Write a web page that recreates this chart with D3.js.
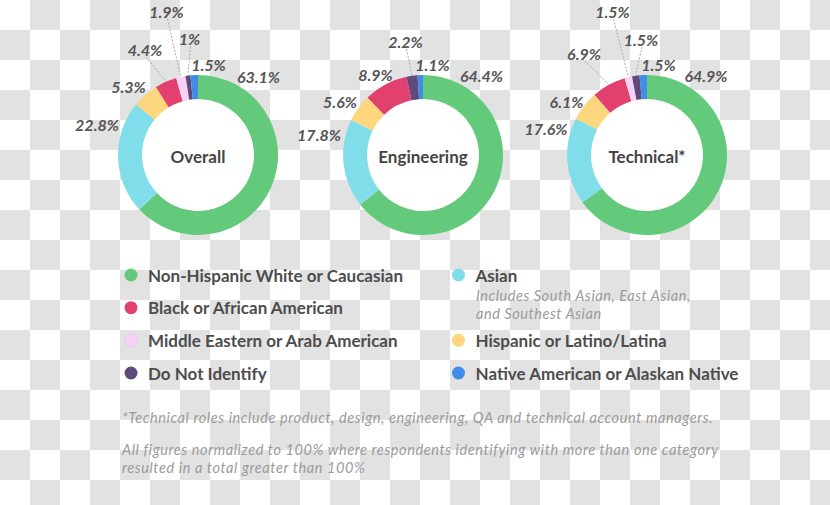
<!DOCTYPE html>
<html>
<head>
<meta charset="utf-8">
<script src="https://cdn.jsdelivr.net/npm/d3@7"></script>
<style>
  html, body { margin: 0; padding: 0; background: #fff; }
  svg { display: block; }
  text { font-family: Lato, "Open Sans", sans-serif; }
</style>
</head>
<body>
<svg id="chart" width="830" height="505"></svg>
<script>
// ---- data ----
const categories = [
  "Non-Hispanic White or Caucasian",
  "Asian",
  "Hispanic or Latino/Latina",
  "Black or African American",
  "Middle Eastern or Arab American",
  "Do Not Identify",
  "Native American or Alaskan Native"
];
const chartTitles = ["Overall", "Engineering", "Technical*"];
const overallValues     = [63.1, 22.8, 5.3, 4.4, 1.9, 1.0, 1.5];
const engineeringValues = [64.4, 17.8, 5.6, 8.9, 0.0, 2.2, 1.1];
const technicalValues   = [64.9, 17.6, 6.1, 6.9, 1.5, 1.5, 1.5];
const legendLeft  = ["Non-Hispanic White or Caucasian", "Black or African American", "Middle Eastern or Arab American", "Do Not Identify"];
const legendRight = ["Asian", "Hispanic or Latino/Latina", "Native American or Alaskan Native"];
const asianNote = ["Includes South Asian, East Asian,", "and Southest Asian"];
const footnotes = [
  "*Technical roles include product, design, engineering, QA and technical account managers.",
  "All figures normalized to 100% where respondents identifying with more than one category",
  "resulted in a total greater than 100%"
];

// ---- styling / layout (not data) ----
const colors = ["#63ca7b", "#7fdeea", "#fdd67e", "#e2416f", "#f6d3f6", "#5f4a7c", "#3f8ce9"];
const color = d3.scaleOrdinal().domain(categories).range(colors);
const centersX = [198, 423, 647];
const centerY = 155;
const rOuter = 80, rInner = 56;
// label anchor offsets relative to donut centre, per chart, per category; lead = dashed leader line
const labelLayout = [
  [[60.5,-79,0],[-101,-31,0],[-69.5,-69,0],[-53,-106,1],[-31.5,-144,1],[-8.5,-116.5,1],[10.5,-91,0]],
  [[58.5,-80,0],[-104,-21,0],[-83,-54,0],[-47.5,-81,0],null,[-17.5,-114,1],[9.5,-91,0]],
  [[59,-80,0],[-101,-27,0],[-80.5,-54,0],[-63,-102,1],[-34.5,-144,1],[-6,-116,1],[11.5,-91,0]]
];

const svg = d3.select("#chart");

// checkerboard background
const defs = svg.append("defs");
const pat = defs.append("pattern").attr("id", "checker")
  .attr("width", 60).attr("height", 60).attr("patternUnits", "userSpaceOnUse");
pat.append("rect").attr("width", 60).attr("height", 60).attr("fill", "#ffffff");
pat.append("rect").attr("x", 30).attr("y", 0).attr("width", 30).attr("height", 30).attr("fill", "#e2e2e2");
pat.append("rect").attr("x", 0).attr("y", 30).attr("width", 30).attr("height", 30).attr("fill", "#e2e2e2");
svg.append("rect").attr("width", 830).attr("height", 505).attr("fill", "url(#checker)");

const pie = d3.pie().sort(null).value(d => d).startAngle(0).endAngle(2 * Math.PI);
const arc = d3.arc().innerRadius(rInner).outerRadius(rOuter);
const fmt = v => (Math.round(v * 10) % 10 === 0 ? String(Math.round(v)) : v.toFixed(1)) + "%";

const allValues = [overallValues, engineeringValues, technicalValues];
allValues.forEach((vals, ci) => {
  const g = svg.append("g").attr("transform", `translate(${centersX[ci]},${centerY})`);
  g.append("circle").attr("r", rInner).attr("fill", "#fff");
  const arcs = pie(vals);
  g.selectAll("path.slice").data(arcs).enter().append("path")
    .attr("class", "slice")
    .attr("d", arc)
    .attr("fill", (d, i) => color(categories[i]));

  arcs.forEach((d, i) => {
    const lay = labelLayout[ci][i];
    if (!lay || d.value === 0) return;
    const [lx, ly, lead] = lay;
    if (lead) {
      const a = (d.startAngle + d.endAngle) / 2;
      const ex = Math.sin(a) * (rOuter + 1), ey = -Math.cos(a) * (rOuter + 1);
      g.append("line")
        .attr("x1", lx + 1).attr("y1", ly + 8)
        .attr("x2", ex).attr("y2", ey)
        .attr("stroke", "#a9a9a9").attr("stroke-width", 1)
        .attr("stroke-dasharray", "2,1.5");
    }
    g.append("text")
      .attr("x", lx).attr("y", ly)
      .attr("text-anchor", "middle").attr("dominant-baseline", "central")
      .attr("font-size", 16).attr("font-weight", 700).attr("font-style", "italic")
      .attr("fill", "#555")
      .text(fmt(d.value));
  });

  g.append("text")
    .attr("y", 1).attr("text-anchor", "middle").attr("dominant-baseline", "central")
    .attr("font-size", 17).attr("font-weight", 700).attr("fill", "#444")
    .text(chartTitles[ci]);
});

// legend
const rowY = d3.scaleLinear().domain([0, 3]).range([275, 373]);
const legendG = svg.append("g");
function legendItem(name, x, row) {
  const y = rowY(row);
  legendG.append("circle").attr("cx", x).attr("cy", y).attr("r", 6.5)
    .attr("fill", color(name))
    .attr("stroke", name === "Middle Eastern or Arab American" ? "#e8c4ea" : "none")
    .attr("stroke-width", 0.8);
  legendG.append("text").attr("x", x + 17).attr("y", y).attr("dominant-baseline", "central")
    .attr("font-size", 17).attr("font-weight", 700).attr("fill", "#4d4d4d")
    .text(name);
}
legendLeft.forEach((n, i) => legendItem(n, 131, i));
legendItem(legendRight[0], 458.5, 0);
legendItem(legendRight[1], 458.5, 2);
legendItem(legendRight[2], 458.5, 3);
asianNote.forEach((t, i) => {
  legendG.append("text").attr("x", 476).attr("y", 295.5 + i * 17.5).attr("dominant-baseline", "central")
    .attr("font-size", 14.5).attr("letter-spacing", 0.55).attr("font-style", "italic").attr("fill", "#9b9b9b")
    .text(t);
});

// footnotes
const footY = [417, 449.5, 467];
footnotes.forEach((t, i) => {
  svg.append("text").attr("x", 122).attr("y", footY[i]).attr("dominant-baseline", "central")
    .attr("font-size", 14.5).attr("letter-spacing", 0.6).attr("font-style", "italic").attr("fill", "#9b9b9b")
    .text(t);
});
</script>
</body>
</html>
